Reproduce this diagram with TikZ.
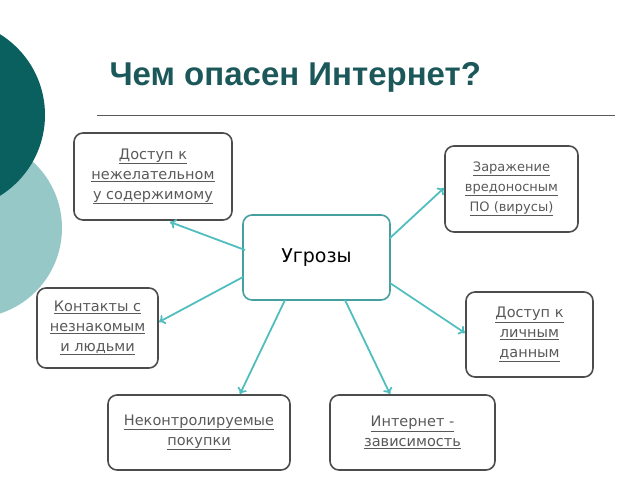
\documentclass[tikz,border=0pt]{standalone}
\usepackage{fontspec}
\usetikzlibrary{arrows.meta}
\setmainfont{Liberation Sans}
\newfontfamily\boxfont{DejaVu Sans}
\definecolor{arc}{RGB}{80,190,190}
\begin{document}
\begin{tikzpicture}[x=1pt,y=-1pt,
  bx/.style={draw=black!70,line width=1.6pt,rounded corners=9pt,align=center,font=\boxfont\fontsize{14.5}{20}\selectfont,text=black!65,inner sep=0pt},
  ar/.style={draw=arc,line width=1.8pt,-{To[length=6pt,width=10pt]}}]
\useasboundingbox (0,0) rectangle (640,479);
\begin{scope}
\clip (0,0) rectangle (640,479);
\fill[color={rgb,255:red,150;green,200;blue,200}] (-28,228) circle (90);
\fill[color={rgb,255:red,10;green,95;blue,95}] (-50,115) circle (95);
\end{scope}
\node[font=\bfseries\fontsize{33}{36}\selectfont,text={rgb,255:red,28;green,88;blue,90},anchor=west] (t) at (106,77) {Чем опасен Интернет?};
\draw[black!65,line width=0.8pt] (97,115) -- (615,115);
\node[bx,draw={rgb,255:red,70;green,160;blue,160},font=\boxfont\fontsize{19}{22}\selectfont,text=black,minimum width=147pt,minimum height=85pt] (c) at (316.5,257.5) {Угрозы};
\node[bx,minimum width=158pt,minimum height=87pt] (a) at (153,176.5) {\underline{Доступ к}\\\underline{нежелательном}\\\underline{у содержимому}};
\node[bx,font=\boxfont\fontsize{13}{20}\selectfont,minimum width=133pt,minimum height=86pt] (b) at (511.5,189) {\underline{Заражение}\\\underline{вредоносным}\\\underline{ПО (вирусы)}};
\node[bx,minimum width=121pt,minimum height=80pt] (d) at (97.5,328) {\underline{Контакты с}\\\underline{незнакомым}\\\underline{и людьми}};
\node[bx,minimum width=127pt,minimum height=85pt] (e) at (529.5,334.5) {\underline{Доступ к}\\\underline{личным}\\\underline{данным}};
\node[bx,minimum width=182pt,minimum height=75pt] (f) at (199,432.5) {\underline{Неконтролируемые}\\\underline{покупки}};
\node[bx,minimum width=165pt,minimum height=75pt] (g) at (412.5,432.5) {\underline{Интернет -}\\\underline{зависимость}};
\coordinate (c1) at (245,250); \coordinate (c2) at (390,238);
\coordinate (c3) at (243,277); \coordinate (c4) at (390,283);
\coordinate (c5) at (285,300); \coordinate (c6) at (345,300);
\coordinate (ea) at (170,222); \coordinate (eb) at (444,188);
\coordinate (ed) at (159,322); \coordinate (ee) at (465,333);
\coordinate (ef) at (240,394); \coordinate (eg) at (390,394);
\draw[ar] (c1) -- (ea);
\draw[ar] (c2) -- (eb);
\draw[ar] (c3) -- (ed);
\draw[ar] (c4) -- (ee);
\draw[ar] (c5) -- (ef);
\draw[ar] (c6) -- (eg);
\end{tikzpicture}
\end{document}
